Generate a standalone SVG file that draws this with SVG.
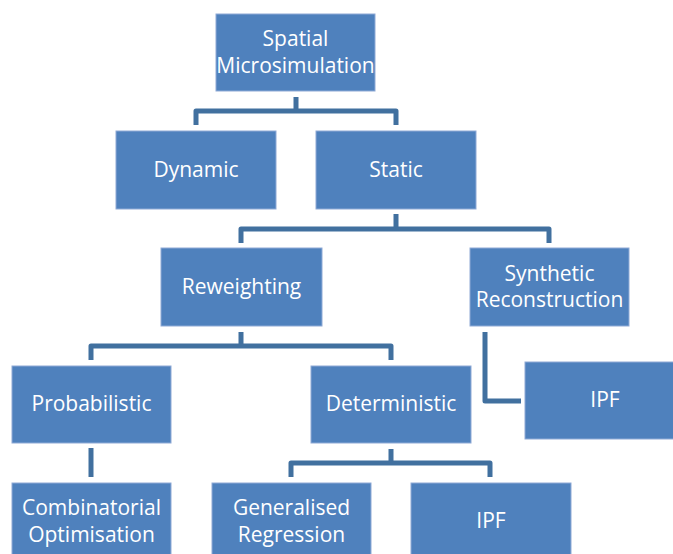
<svg xmlns="http://www.w3.org/2000/svg" width="673" height="554" viewBox="0 0 673 554">
<style>
.box{fill:#4F81BD;stroke:#8FAAD6;stroke-width:1}
.t{font-family:"Open Sans","Liberation Sans",sans-serif;font-size:21px;fill:#FFFFFF;text-anchor:middle}
.c{fill:none;stroke:#41709F;stroke-width:5;stroke-linejoin:round}
</style>
<rect width="673" height="554" fill="#FFFFFF"/>
<g id="connectors">
<path class="c" d="M296 97 V111 M196 125 V111 H396 V125"/>
<path class="c" d="M396 214 V229 M241 243 V229 H549 V243"/>
<path class="c" d="M241 332 V346 M91 360 V346 H391 V360"/>
<path class="c" d="M91 448 V477"/>
<path class="c" d="M391 449 V463 M291 477 V463 H490 V477"/>
<path class="c" d="M485 332 V401 H521"/>
</g>
<g id="spatial"><rect class="box" x="216" y="14" width="159" height="77"/><text class="t" x="295.5" y="46">Spatial</text><text class="t" x="295.5" y="73">Microsimulation</text></g>
<g id="dynamic"><rect class="box" x="116" y="131" width="160" height="78"/><text class="t" x="196" y="177">Dynamic</text></g>
<g id="static"><rect class="box" x="316" y="131" width="160" height="78"/><text class="t" x="396" y="177">Static</text></g>
<g id="reweighting"><rect class="box" x="161" y="248" width="161" height="78"/><text class="t" x="241.5" y="294">Reweighting</text></g>
<g id="synthetic"><rect class="box" x="470" y="248" width="159" height="78"/><text class="t" x="549.5" y="281">Synthetic</text><text class="t" x="549.5" y="307">Reconstruction</text></g>
<g id="probabilistic"><rect class="box" x="12" y="366" width="159" height="77"/><text class="t" x="91.5" y="411">Probabilistic</text></g>
<g id="deterministic"><rect class="box" x="311" y="366" width="160" height="77"/><text class="t" x="391" y="411">Deterministic</text></g>
<g id="ipf-sr"><rect class="box" x="525" y="362" width="160" height="77"/><text class="t" x="605" y="407">IPF</text></g>
<g id="combinatorial"><rect class="box" x="12" y="483" width="159" height="78"/><text class="t" x="91.5" y="515">Combinatorial</text><text class="t" x="91.5" y="542">Optimisation</text></g>
<g id="generalised"><rect class="box" x="212" y="483" width="159" height="78"/><text class="t" x="291.5" y="515">Generalised</text><text class="t" x="291.5" y="542">Regression</text></g>
<g id="ipf-det"><rect class="box" x="411" y="483" width="160" height="78"/><text class="t" x="491" y="528">IPF</text></g>
</svg>
